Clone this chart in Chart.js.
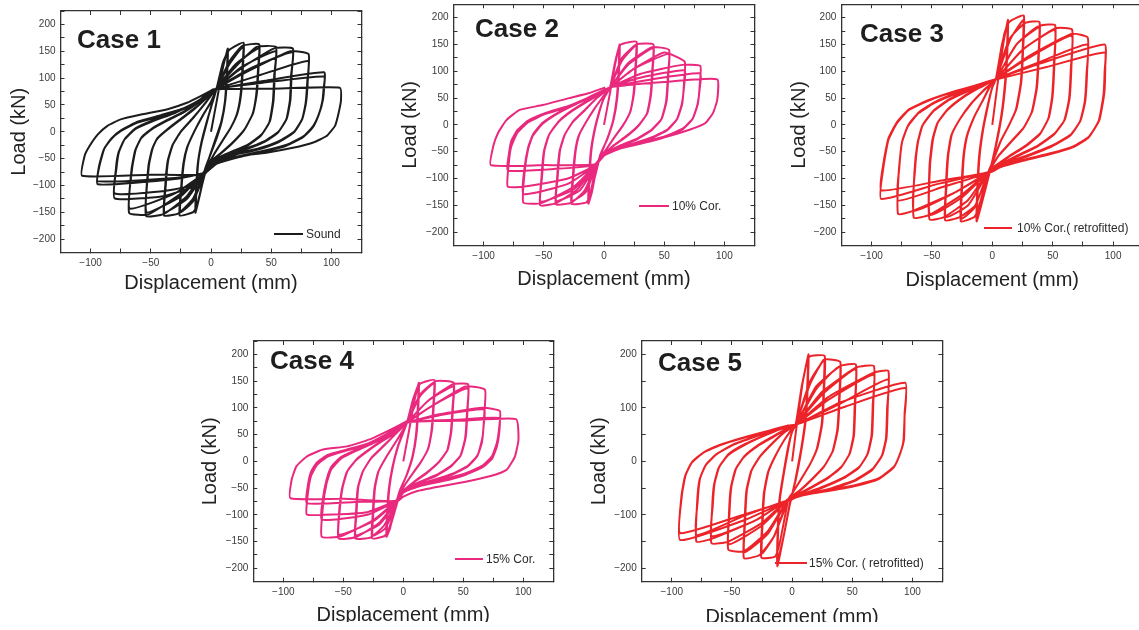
<!DOCTYPE html>
<html><head><meta charset="utf-8">
<script src="https://cdn.jsdelivr.net/npm/chart.js@4.4.1/dist/chart.umd.min.js"></script>
<style>
html,body{margin:0;padding:0;background:#fff;}
body{width:1139px;height:630px;overflow:hidden;position:relative;font-family:"Liberation Sans",Arial,sans-serif;}
canvas{position:absolute;}
.case{position:absolute;font-weight:700;font-size:26px;line-height:26px;color:#1e1e1e;white-space:nowrap;}
.legline{position:absolute;height:2px;}
.legtxt{position:absolute;font-size:12px;line-height:14px;color:#2a2a2a;white-space:nowrap;}
.cut{position:absolute;left:0;top:622px;width:1139px;height:8px;background:#fff;}
</style></head><body>
<canvas id="c1" width="380" height="300" style="left:0px;top:0px"></canvas>
<canvas id="c2" width="390" height="300" style="left:390px;top:0px"></canvas>
<canvas id="c3" width="380" height="300" style="left:780px;top:0px"></canvas>
<canvas id="c4" width="380" height="310" style="left:190px;top:330px"></canvas>
<canvas id="c5" width="380" height="310" style="left:580px;top:330px"></canvas>

<div class="case" style="left:77px;top:26px">Case 1</div>
<div class="case" style="left:475px;top:15px">Case 2</div>
<div class="case" style="left:860px;top:20px">Case 3</div>
<div class="case" style="left:270px;top:347px">Case 4</div>
<div class="case" style="left:658px;top:349px">Case 5</div>

<div class="legline" style="left:274px;top:233px;width:29px;background:#1c1c1c"></div>
<div class="legtxt" style="left:306px;top:227px">Sound</div>
<div class="legline" style="left:639px;top:205px;width:30px;background:#e9297d"></div>
<div class="legtxt" style="left:672px;top:199px">10% Cor.</div>
<div class="legline" style="left:984px;top:227px;width:28px;background:#ec2328"></div>
<div class="legtxt" style="left:1017px;top:221px">10% Cor.( retrofitted)</div>
<div class="legline" style="left:455px;top:558px;width:28px;background:#e9297d"></div>
<div class="legtxt" style="left:486px;top:552px">15% Cor.</div>
<div class="legline" style="left:775px;top:562px;width:32px;background:#ec2328"></div>
<div class="legtxt" style="left:809px;top:556px">15% Cor. ( retrofitted)</div>
<div class="cut"></div>

<script>
// ---- data: [displacement (mm), load (kN)] ----
const case1Sound = [
[0,0],[5,60],[10,120],[14,155],[13.5,110],[12,60],[9,20],[5,-10],[0,-40],[-5,-70],[-9,-115],[-13,-151],
[-12.5,-110],[-11,-60],[-8,-20],[-4,15],[0,45],[4,75],[9,120],[13.5,148],[13,105],[11.5,55],[8.5,18],[4,-12],[-1,-45],[-5,-75],[-9,-115],[-12.5,-145],
[-12,-105],[-10.5,-55],[-7.5,-18],[-3.5,17],[0,46],[4,75],[10,130],[15,152],[27,166],
[26.5,120],[25,70],[22,35],[17,10],[10,-15],[3,-40],[-4,-70],[-12,-140],[-15,-150],[-26,-156],
[-25,-110],[-23,-60],[-20,-30],[-14,0],[-7,30],[0,55],[4,76],[15,125],[26.5,158],
[26,115],[24.5,68],[21.5,33],[16.5,8],[9.5,-17],[2.5,-42],[-4,-72],[-15,-130],[-25.5,-150],
[-24.5,-105],[-22.5,-58],[-19.5,-28],[-13.5,2],[-6.5,31],[0,56],[4,76],[15,130],[26,160],[40,163],
[39.5,120],[38,70],[35,35],[28,5],[18,-20],[8,-40],[0,-55],[-5,-75],[-15,-125],[-27,-152],[-39,-156],
[-38,-100],[-36,-55],[-32,-25],[-25,0],[-15,25],[-6,50],[3,76],[20,125],[39.5,155],
[39,115],[37.5,68],[34.5,33],[27.5,3],[17.5,-22],[7.5,-42],[-0.5,-57],[-5,-76],[-20,-125],[-38.5,-150],
[-37.5,-98],[-35.5,-53],[-31.5,-23],[-24.5,2],[-14.5,27],[-5.5,51],[3,76],[20,120],[38,158],[54,158],
[53,110],[52,60],[49,20],[42,-5],[30,-25],[16,-38],[3,-52],[-5,-72],[-20,-120],[-39,-153],[-54,-157],
[-52,-64],[-49,-33],[-45,-14],[-36,4],[-25,23],[-14,42],[-5,60],[2,76],[25,120],[53.5,150],
[52.5,105],[51.5,58],[48.5,18],[41.5,-7],[29.5,-27],[15.5,-40],[2.5,-54],[-5,-73],[-25,-120],[-53.5,-150],
[-51.5,-62],[-48.5,-31],[-44.5,-12],[-35.5,6],[-24.5,25],[-13.5,44],[-4.5,61],[2,76],[25,118],[52,155],[68,155],
[67,110],[66,60],[63,25],[56,0],[44,-18],[28,-32],[12,-42],[2,-55],[-5,-75],[-25,-115],[-52,-154],[-68,-151],
[-66,-70],[-63,-35],[-58,-12],[-49,5],[-36,21],[-22,37],[-10,55],[2,77],[30,115],[67.5,148],
[66.5,105],[65.5,58],[62.5,23],[55.5,-2],[43.5,-20],[27.5,-34],[11.5,-44],[1.5,-57],[-5,-76],[-30,-115],[-67.5,-143],
[-65.5,-68],[-62.5,-33],[-57.5,-10],[-48.5,7],[-35.5,23],[-21.5,39],[-9.5,56],[2,77],[30,112],[66,150],[81,145],
[80.5,100],[79,55],[76,25],[69,0],[56,-18],[38,-32],[18,-42],[3,-55],[-5,-76],[-12,-100],[-40,-120],[-80,-124],
[-79,-70],[-77,-40],[-72,-15],[-63,5],[-48,20],[-30,35],[-15,52],[-4,66],[3,78],[40,105],[80.5,132],
[80,95],[78.5,52],[75.5,22],[68.5,-2],[55.5,-20],[37.5,-34],[17.5,-44],[2.5,-57],[-5,-77],[-15,-100],[-45,-112],[-80,-115],
[-78.5,-68],[-76.5,-38],[-71.5,-13],[-62.5,7],[-47.5,22],[-29.5,37],[-14.5,53],[-3.5,67],[3,78],[45,95],[94,111],
[94,85],[93,60],[90,35],[85,11],[77,-8],[63,-24],[43,-36],[24,-45],[5,-58],[-5,-76],[-30,-88],[-94,-98],
[-93,-64],[-89,-33],[-83,-14],[-75,1],[-61,17],[-42,29],[-23,42],[-9,60],[2,79],[45,92],[94,103],
[93.5,80],[92.5,57],[89.5,32],[84.5,8],[76.5,-10],[62.5,-26],[42.5,-38],[23.5,-47],[4.5,-60],[-5,-77],[-30,-86],[-94,-92],
[-92.5,-62],[-88.5,-31],[-82.5,-12],[-74.5,3],[-60.5,19],[-41.5,31],[-22.5,44],[-8.5,61],[2,79],[50,80],[107,82],
[108,60],[106,35],[103,11],[96,-8],[85,-20],[68,-30],[46,-39],[24,-45],[8,-52],[0,-64],[-6,-80],[-50,-80],[-107,-82],
[-105,-45],[-101,-27],[-94,-5],[-86,11],[-75,23],[-58,32],[-36,42],[-20,54],[-9,66],[2,79]
];
const case2Cor10 = [
[0,0],[5,60],[9,110],[13,150],[12.5,100],[11,50],[8,10],[3,-25],[-3,-55],[-7,-90],[-10,-125],[-13,-147],
[-12.5,-100],[-11,-50],[-8,-10],[-4,25],[0,50],[5,70],[9,115],[12.5,145],[12,98],[10.5,48],[7.5,8],[2.5,-27],[-3,-57],[-7,-92],[-12.5,-142],
[-12,-98],[-10.5,-48],[-7.5,-8],[-3.5,27],[0,51],[5,70],[10,125],[14,150],[27,155],
[26.5,110],[25,60],[22,25],[16,0],[9,-22],[2,-45],[-6,-72],[-12,-135],[-15,-145],[-27,-147],
[-26,-100],[-24,-50],[-21,-20],[-15,5],[-8,30],[-1,52],[5,70],[15,120],[26.5,148],
[26,105],[24.5,58],[21.5,23],[15.5,-2],[8.5,-24],[1.5,-47],[-6,-73],[-15,-125],[-26.5,-142],
[-25.5,-98],[-23.5,-48],[-20.5,-18],[-14.5,7],[-7.5,32],[-0.5,53],[5,70],[15,125],[27,150],[41,150],
[40.5,105],[39,55],[36,22],[29,0],[19,-20],[8,-38],[0,-55],[-6,-72],[-16,-122],[-27,-145],[-40,-148],
[-39,-100],[-37,-50],[-33,-20],[-26,5],[-16,27],[-6,50],[5,70],[20,112],[40.5,143],
[40,100],[38.5,53],[35.5,20],[28.5,-2],[18.5,-22],[7.5,-40],[-0.5,-57],[-6,-73],[-20,-122],[-39.5,-142],
[-38.5,-98],[-36.5,-48],[-32.5,-18],[-25.5,7],[-15.5,29],[-5.5,51],[5,70],[20,115],[40,145],[54,140],
[53.5,95],[52,45],[48,12],[40,-8],[28,-25],[14,-38],[2,-52],[-6,-72],[-22,-120],[-40,-146],[-53,-150],
[-52,-100],[-50,-50],[-46,-20],[-38,5],[-27,25],[-15,42],[-3,58],[5,70],[25,105],[53.5,132],
[53,90],[51.5,43],[47.5,10],[39.5,-10],[27.5,-27],[13.5,-40],[1.5,-54],[-6,-73],[-25,-120],[-52.5,-143],
[-51.5,-98],[-49.5,-48],[-45.5,-18],[-37.5,7],[-26.5,27],[-14.5,44],[-2.5,59],[5,70],[25,105],[50,135],[67,118],
[66.5,80],[65,40],[61,12],[53,-8],[40,-23],[24,-35],[8,-46],[-2,-58],[-7,-74],[-25,-115],[-52,-146],[-67,-145],
[-66,-90],[-63,-45],[-59,-20],[-51,2],[-38,22],[-24,38],[-10,52],[5,70],[30,88],[67,102],
[66.5,72],[64.5,38],[60.5,10],[52.5,-10],[39.5,-25],[23.5,-37],[7.5,-48],[-2,-60],[-7,-75],[-30,-110],[-67,-129],
[-66,-80],[-63,-42],[-59,-18],[-51,4],[-38,23],[-24,39],[-10,53],[5,70],[30,95],[65,112],[80,110],
[79.5,75],[78,40],[74,13],[66,-6],[52,-20],[33,-32],[14,-42],[0,-55],[-7,-75],[-30,-100],[-66,-115],[-80,-115],
[-79,-70],[-77,-40],[-72,-15],[-63,5],[-49,20],[-30,33],[-14,48],[5,70],[40,85],[80,96],
[79.5,68],[77.5,37],[73.5,11],[65.5,-8],[51.5,-22],[32.5,-34],[13.5,-44],[0,-57],[-7,-75],[-40,-82],[-80,-85],
[-79,-55],[-77,-30],[-72,-10],[-63,8],[-49,22],[-30,35],[-14,50],[5,70],[50,80],[94,85],
[94,46],[90.5,22],[84,3],[71,-9],[52,-22],[30,-34],[9,-46],[-2,-59],[-8,-74],[-50,-75],[-94,-75],
[-92,-40],[-88,-15],[-81,9],[-70,28],[-51,37],[-29,50],[-13,59],[1,70]
];
const case3Cor10Retro = [
[0,0],[4,70],[9,150],[13,196],[12.5,140],[11,80],[8,20],[3,-40],[-2,-85],[-8,-140],[-13,-180],
[-12.5,-120],[-11,-60],[-8,-10],[-4,35],[0,70],[3,86],[8,150],[12.5,188],[12,135],[10.5,78],[7.5,18],[2.5,-42],[-2,-87],[-8,-140],[-12.5,-175],
[-12,-118],[-10.5,-58],[-7.5,-8],[-3.5,37],[0,71],[3,86],[10,170],[14,192],[26,204],
[25.5,140],[24,80],[20,30],[14,0],[7,-30],[1,-65],[-3,-86],[-12,-160],[-15,-172],[-26,-180],
[-25.5,-120],[-24,-60],[-21,-20],[-15,15],[-8,45],[-2,72],[3,86],[15,160],[25.5,195],
[25,135],[23.5,78],[19.5,28],[13.5,-2],[6.5,-32],[0.5,-67],[-3,-87],[-15,-155],[-25.5,-175],
[-25,-118],[-23.5,-58],[-20.5,-18],[-14.5,17],[-7.5,47],[-1.5,73],[3,86],[14,160],[27,190],[39,192],
[38.5,130],[37,70],[33,25],[26,-5],[16,-30],[6,-55],[-3,-86],[-14,-150],[-27,-172],[-39,-178],
[-38.5,-120],[-37,-60],[-34,-20],[-27,10],[-18,38],[-8,62],[3,86],[20,150],[38.5,184],
[38,125],[36.5,68],[32.5,23],[25.5,-7],[15.5,-32],[5.5,-57],[-3,-87],[-20,-150],[-38.5,-172],
[-38,-118],[-36.5,-58],[-33.5,-18],[-26.5,12],[-17.5,40],[-7.5,64],[3,86],[20,150],[40,185],[52,186],
[51.5,120],[50,55],[47,15],[40,-15],[28,-38],[14,-58],[2,-77],[-3,-86],[-20,-140],[-40,-172],[-52,-176],
[-52,-77],[-49.6,-28],[-45.5,3],[-37,28],[-25,50],[-11.7,68],[3,86],[25,140],[51.5,177],
[51,115],[49.5,53],[46.5,13],[39.5,-17],[27.5,-40],[13.5,-60],[1.5,-79],[-3,-87],[-25,-135],[-51.5,-168],
[-51.5,-75],[-49,-26],[-45,5],[-36.5,30],[-24.5,52],[-11.2,70],[3,86],[25,140],[52,180],[66,178],
[65.5,110],[64,50],[60,10],[52,-15],[38,-38],[20,-58],[5,-76],[-3,-87],[-25,-130],[-52,-168],[-65,-173],
[-64.5,-90],[-62,-35],[-58,-2],[-49,25],[-36,46],[-20,63],[-6,76],[3,86],[30,125],[65.5,166],
[65,105],[63.5,48],[59.5,8],[51.5,-17],[37.5,-40],[19.5,-60],[4.5,-78],[-3,-88],[-30,-125],[-65,-160],
[-64,-85],[-61.5,-32],[-57.5,0],[-48.5,27],[-35.5,48],[-19.5,65],[-5.5,77],[3,86],[30,128],[66,170],[79,163],
[78.5,100],[77,45],[73,8],[65,-18],[50,-38],[30,-56],[10,-72],[-1,-87],[-30,-125],[-65,-160],[-78,-166],
[-77.5,-90],[-75,-35],[-70,-3],[-61,22],[-47,42],[-28,60],[-10,74],[2,85],[40,118],[78.5,150],
[78,95],[76.5,43],[72.5,6],[64.5,-20],[49.5,-40],[29.5,-58],[9.5,-74],[-1,-88],[-40,-115],[-78,-141],
[-77,-80],[-74.5,-30],[-69.5,0],[-60.5,24],[-46.5,44],[-27.5,62],[-9.5,76],[2,85],[40,115],[93,150],
[93.5,108],[92.7,59],[88.6,9],[80,-22],[67,-40],[48,-53],[26,-65],[7,-77],[-1,-87],[-45,-110],[-92,-138],
[-90,-77],[-86,-28],[-79,3],[-69,28],[-52,46],[-31,62],[-12,74],[2,84],[45,108],[93,135],
[93,100],[92,55],[88,7],[79.5,-24],[66.5,-42],[47.5,-55],[25.5,-67],[6.5,-79],[-1,-88],[-45,-105],[-92,-122],
[-90,-70],[-86,-25],[-79,5],[-69,29],[-52,47],[-31,63],[-12,75],[2,85]
];
const case4Cor15 = [
[0,0],[5,60],[9,110],[13,147],[12.5,100],[11,50],[8,10],[3,-25],[-3,-55],[-8,-95],[-11,-125],[-14,-141],
[-13.5,-95],[-12,-50],[-9,-10],[-5,25],[-1,50],[3,72],[8,115],[12.5,142],[12,98],[10.5,48],[7.5,8],[2.5,-27],[-3,-57],[-8,-97],[-13.5,-136],
[-13,-93],[-11.5,-48],[-8.5,-8],[-4.5,27],[-0.5,51],[3,72],[9,120],[14,145],[26,152],
[25.5,110],[24,60],[21,25],[15,0],[8,-22],[1,-45],[-4,-70],[-12,-130],[-16,-140],[-26,-144],
[-25.5,-100],[-24,-50],[-21,-20],[-15,5],[-8,30],[-2,52],[3,72],[14,122],[25.5,146],
[25,105],[23.5,58],[20.5,23],[14.5,-2],[7.5,-24],[0.5,-47],[-4,-71],[-15,-125],[-25.5,-139],
[-25,-98],[-23.5,-48],[-20.5,-18],[-14.5,7],[-7.5,32],[-1.5,53],[3,72],[14,125],[27,150],[42,147],
[41.5,105],[40,55],[37,22],[30,0],[20,-20],[9,-38],[0,-55],[-4,-70],[-16,-120],[-27,-142],[-40,-144],
[-39.5,-100],[-38,-50],[-34,-20],[-27,5],[-17,27],[-7,50],[3,72],[20,112],[41.5,140],
[41,100],[39.5,53],[36.5,20],[29.5,-2],[19.5,-22],[8.5,-40],[-0.5,-57],[-4,-71],[-20,-118],[-39.5,-138],
[-39,-98],[-37.5,-48],[-33.5,-18],[-26.5,7],[-16.5,29],[-6.5,51],[3,72],[20,112],[41,144],[54,144],
[53.5,95],[52,45],[48,12],[40,-8],[28,-25],[14,-38],[2,-52],[-4,-70],[-20,-115],[-40,-142],[-54,-144],
[-53.5,-95],[-51,-50],[-47,-20],[-39,3],[-28,22],[-16,40],[-4,57],[3,72],[25,105],[53.5,136],
[53,90],[51.5,43],[47.5,10],[39.5,-10],[27.5,-27],[13.5,-40],[1.5,-54],[-4,-71],[-25,-112],[-53.5,-137],
[-53,-92],[-50.5,-48],[-46.5,-18],[-38.5,5],[-27.5,24],[-15.5,42],[-3.5,58],[3,72],[25,105],[52,140],[68,134],
[67.5,90],[66,45],[62,12],[54,-8],[41,-23],[25,-35],[9,-46],[-1,-58],[-5,-72],[-25,-110],[-52,-140],[-68,-141],
[-67,-85],[-64,-42],[-60,-15],[-52,5],[-39,20],[-24,35],[-10,52],[3,72],[35,88],[67.5,97],
[67,68],[65.5,35],[61.5,9],[53.5,-10],[40.5,-25],[24.5,-37],[8.5,-48],[-1,-60],[-5,-73],[-30,-100],[-68,-109],
[-67,-70],[-64,-35],[-60,-10],[-52,8],[-39,22],[-24,36],[-10,53],[3,72],[30,88],[66,100],[80.5,94],
[80,65],[78,35],[74,10],[66,-8],[52,-22],[33,-34],[14,-44],[0,-56],[-5,-72],[-30,-95],[-66,-100],[-80.5,-99],
[-79.5,-60],[-77,-28],[-72,-7],[-63,9],[-49,19],[-30,31],[-14,49],[3,73],[45,78],[80,81],
[80,55],[78,28],[74,5],[66,-11],[52,-25],[33,-37],[14,-46],[0,-58],[-5,-73],[-40,-76],[-80.5,-78],
[-79.5,-45],[-77,-20],[-72,-2],[-63,12],[-49,21],[-30,33],[-14,51],[3,73],[50,76],[94,79],
[96,41],[93,9],[86,-16],[72,-28],[53,-37.5],[30.5,-47],[11,-56],[0,-66],[-5.5,-75],[-50,-70],[-94,-69],
[-93,-34],[-89,-9],[-80.5,9],[-67,22],[-47,28],[-28,41],[-11,59],[3,75]
];
const case5Cor15Retro = [
[0,0],[4,70],[9,150],[13.7,200],[13,140],[11.5,80],[8,25],[3,-35],[-2,-80],[-7,-140],[-12.3,-196],
[-12,-130],[-10.5,-70],[-7,-20],[-3,30],[0,55],[3,69],[8,140],[13,192],[12.5,135],[11,78],[7.5,23],[2.5,-37],[-2,-82],[-7,-140],[-12,-185],
[-11.5,-125],[-10,-68],[-6.5,-18],[-2.5,32],[0,56],[3,69],[9,150],[14,195],[27,197],
[26.5,130],[25,70],[21,25],[15,-5],[7,-35],[0,-60],[-3,-70],[-10,-150],[-14,-178],[-25.5,-180],
[-25,-120],[-23.5,-60],[-20,-20],[-14,10],[-7,38],[-1,58],[3,69],[15,145],[26.5,190],
[26,125],[24.5,68],[20.5,23],[14.5,-7],[6.5,-37],[-0.5,-62],[-3,-71],[-15,-140],[-25,-172],
[-24.5,-115],[-23,-58],[-19.5,-18],[-13.5,12],[-6.5,40],[-0.5,59],[3,69],[15,150],[27,190],[40,186],
[39.5,120],[38,60],[34,20],[27,-8],[17,-32],[6,-55],[-3,-70],[-15,-140],[-27,-175],[-40,-181],
[-39.5,-115],[-38,-55],[-34,-18],[-27,8],[-17,32],[-7,53],[3,69],[20,135],[39.5,178],
[39,115],[37.5,58],[33.5,18],[26.5,-10],[16.5,-34],[5.5,-57],[-3,-71],[-20,-135],[-39.5,-170],
[-39,-110],[-37.5,-53],[-33.5,-16],[-26.5,10],[-16.5,34],[-6.5,55],[3,69],[20,140],[40,178],[53,181],
[52.5,110],[51.5,50],[48,15],[41,-10],[30,-30],[16,-48],[4,-62],[-3,-70],[-20,-130],[-40,-168],[-53,-165],
[-52.5,-100],[-51,-50],[-47,-15],[-40,8],[-29,28],[-16,45],[-5,60],[3,69],[25,125],[52.5,172],
[52,105],[51,48],[47.5,13],[40.5,-12],[29.5,-32],[15.5,-50],[3.5,-64],[-3,-71],[-25,-120],[-52.5,-155],
[-52,-95],[-50.5,-48],[-46.5,-13],[-39.5,10],[-28.5,30],[-15.5,47],[-4.5,61],[3,69],[25,130],[53,175],[68,178],
[67.5,110],[66.5,50],[63,15],[56,-10],[43,-30],[25,-48],[8,-62],[-3,-70],[-25,-115],[-53,-150],[-67,-153],
[-66.5,-90],[-65,-45],[-61,-12],[-53,12],[-40,30],[-24,47],[-10,60],[3,69],[30,115],[67.5,162],
[67,105],[66,48],[62.5,13],[55.5,-12],[42.5,-32],[24.5,-50],[7.5,-63],[-3,-71],[-30,-110],[-67,-140],
[-66,-85],[-64.5,-42],[-60.5,-10],[-52.5,14],[-39.5,32],[-23.5,48],[-9.5,61],[3,69],[30,120],[67,165],[80,169],
[79.5,105],[78.5,45],[75,12],[67,-14],[53,-34],[33,-50],[14,-60],[3,-66],[-3,-71],[-30,-110],[-67,-145],[-79.5,-150],
[-79,-80],[-77,-35],[-72,-8],[-63,13],[-49,31],[-31,46],[-15,58],[-4,66],[4,69],[40,108],[79.5,153],
[79,100],[78,43],[74.5,10],[66.5,-16],[52.5,-36],[32.5,-52],[13.5,-61],[2.5,-67],[-3,-72],[-40,-102],[-79.5,-138],
[-78.5,-75],[-76.5,-32],[-71.5,-6],[-62.5,14],[-48.5,32],[-30.5,47],[-14.5,59],[-3.5,67],[4,69],[40,110],[94,147],
[93.5,90],[93,41],[90,16],[85,-9],[72.6,-31],[53,-44],[31.5,-53],[15,-59],[4,-66],[-2,-72],[-40,-110],[-93,-147],
[-92,-66],[-89,-28],[-83.6,-3],[-74,16],[-59,31],[-40,44],[-20.5,56],[-7,64],[4,69],[45,103],[94,137],
[93.5,85],[92.5,38],[89.5,13],[84.5,-11],[72,-33],[52.5,-46],[31,-55],[14.5,-61],[3.5,-67],[-2,-73],[-45,-103],[-93,-134],
[-91.5,-62],[-88.5,-26],[-83,-1],[-73.5,17],[-58.5,32],[-39.5,45],[-20,57],[-6.5,65],[4,69]
];

// ---- axes ----
const xRange = [-125, 125];
const yRange = [-225, 225];
const xTickValues = [-125,-100,-75,-50,-25,0,25,50,75,100,125];
const xLabelValues = [-100,-50,0,50,100];
const yTickValues = [-225,-200,-175,-150,-125,-100,-75,-50,-25,0,25,50,75,100,125,150,175,200,225];
const yLabelValues = [-200,-150,-100,-50,0,50,100,150,200];
const yTickValuesCase5 = [-200,-150,-100,-50,0,50,100,150,200];
const yLabelValuesCase5 = [-200,-100,0,100,200];
const xTitle = 'Displacement (mm)';
const yTitle = 'Load (kN)';
const FONT = '"Liberation Sans", Arial, sans-serif';
const fmt = v => (v < 0 ? '\u2212' + Math.abs(v) : String(v));

const panels = [
  {id:'c1', pts:case1Sound, color:'#1c1c1c', W:380, H:300, L:60.5, T:11, R:361.5, B:252.5, yTitleX:19.3, xTitleC:283, yTicks:yTickValues, yLabels:yLabelValues},
  {id:'c2', pts:case2Cor10, color:'#e9297d', W:390, H:300, L:63.5, T:4.3, R:364.5, B:245.5, yTitleX:20.9, xTitleC:279.8, yTicks:yTickValues, yLabels:yLabelValues},
  {id:'c3', pts:case3Cor10Retro, color:'#ec2328', W:380, H:300, L:61.3, T:4.3, R:363.3, B:245.5, yTitleX:19.3, xTitleC:280.7, yTicks:yTickValues, yLabels:yLabelValues},
  {id:'c4', pts:case4Cor15, color:'#e9297d', W:380, H:310, L:63.3, T:11, R:363.3, B:251.7, yTitleX:20.9, xTitleC:285.7, yTicks:yTickValues, yLabels:yLabelValues},
  {id:'c5', pts:case5Cor15Retro, color:'#ec2328', W:380, H:310, L:61.7, T:11, R:362.5, B:251.7, yTitleX:19.3, xTitleC:287.4, yTicks:yTickValuesCase5, yLabels:yLabelValuesCase5}
];

const axisColor = '#333';
function gridOpts(){ return {display:true, drawOnChartArea:false, drawTicks:true, tickLength:-4, color:axisColor, tickColor:axisColor, lineWidth:1}; }
function borderOpts(){ return {display:true, color:axisColor, width:1.3}; }
const tickFont = {family:FONT, size:10};
const setTicks = vals => s => { s.ticks = vals.map(v => ({value:v})); };

panels.forEach(p => {
  const ctx = document.getElementById(p.id);
  new Chart(ctx, {
    type:'scatter',
    data:{datasets:[{
      data:p.pts.map(([x,y]) => ({x, y})),
      showLine:true, borderColor:p.color, borderWidth:2, pointRadius:0,
      tension:0.15, fill:false
    }]},
    options:{
      responsive:false, animation:false, devicePixelRatio:1,
      layout:{padding:0},
      plugins:{legend:{display:false}, tooltip:{enabled:false}},
      scales:{
        x:{type:'linear', position:'bottom', min:xRange[0], max:xRange[1],
           afterBuildTicks:setTicks(xTickValues),
           ticks:{autoSkip:false, maxRotation:0, padding:8.4, color:'#3a3a3a', font:tickFont,
                  callback:v => (xLabelValues.includes(v) ? fmt(v) : '')},
           grid:gridOpts(), border:borderOpts(),
           title:{display:true, text:xTitle, color:'#222', font:{family:FONT, size:20}, padding:{top:0, bottom:p.H - 12 - p.xTitleC}},
           afterFit:s => { s.height = p.H - p.B; s.paddingLeft = 0; s.paddingRight = 0; }},
        x2:{type:'linear', position:'top', min:xRange[0], max:xRange[1],
           afterBuildTicks:setTicks(xTickValues),
           ticks:{display:false, autoSkip:false},
           grid:gridOpts(), border:borderOpts(),
           afterFit:s => { s.height = p.T; s.paddingLeft = 0; s.paddingRight = 0; }},
        y:{type:'linear', position:'left', min:yRange[0], max:yRange[1],
           afterBuildTicks:setTicks(p.yTicks),
           ticks:{autoSkip:false, padding:9, color:'#3a3a3a', font:tickFont,
                  callback:v => (p.yLabels.includes(v) ? fmt(v) : '')},
           grid:gridOpts(), border:borderOpts(),
           title:{display:true, text:yTitle, color:'#222', font:{family:FONT, size:20}, padding:{top:p.yTitleX - 12, bottom:0}},
           afterFit:s => { s.width = p.L; s.paddingTop = 0; s.paddingBottom = 0; }},
        y2:{type:'linear', position:'right', min:yRange[0], max:yRange[1],
           afterBuildTicks:setTicks(p.yTicks),
           ticks:{display:false, autoSkip:false},
           grid:gridOpts(), border:borderOpts(),
           afterFit:s => { s.width = p.W - p.R; s.paddingTop = 0; s.paddingBottom = 0; }}
      }
    }
  });
});
</script>
</body></html>
